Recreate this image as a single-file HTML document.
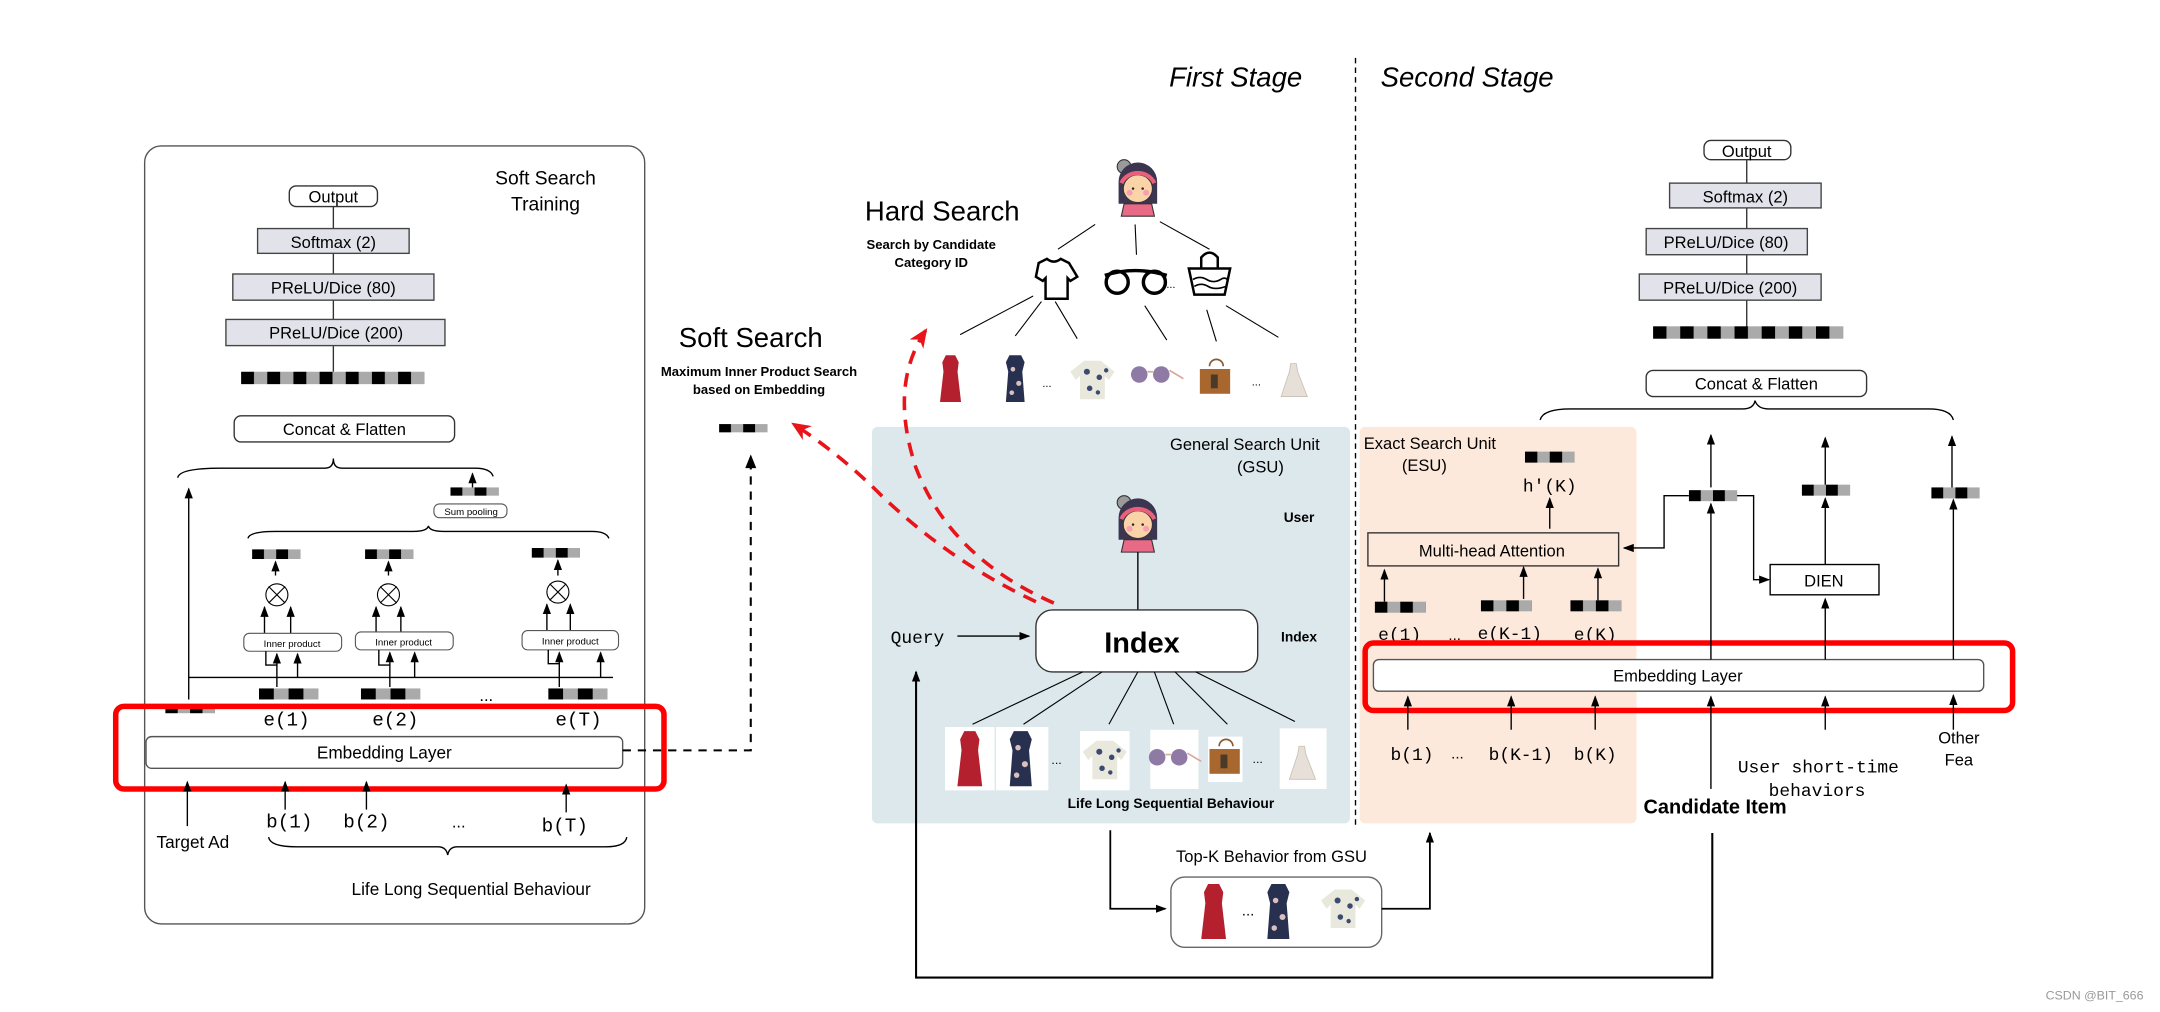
<!DOCTYPE html>
<html><head><meta charset="utf-8"><style>
html,body{margin:0;padding:0;background:#fff;}
svg{display:block;}
text{font-family:"Liberation Sans",sans-serif;fill:#000;}
.m{font-family:"Liberation Mono",monospace;}
.b{font-weight:bold;}
</style></head><body>
<svg width="2160" height="1012" viewBox="0 0 1568 735" preserveAspectRatio="none" xmlns="http://www.w3.org/2000/svg">
<defs>
<pattern id="q4" patternUnits="objectBoundingBox" patternContentUnits="objectBoundingBox" width="0.5" height="1"><rect x="0" y="0" width="0.25" height="1" fill="#000"/><rect x="0.25" y="0" width="0.25" height="1" fill="#aaa"/></pattern>
<pattern id="q14" patternUnits="objectBoundingBox" patternContentUnits="objectBoundingBox" width="0.142857" height="1"><rect x="0" y="0" width="0.0714" height="1" fill="#000"/><rect x="0.0714" y="0" width="0.0714" height="1" fill="#aaa"/></pattern>
<marker id="ar" markerWidth="8" markerHeight="8" refX="7" refY="4" orient="auto" markerUnits="userSpaceOnUse"><path d="M0,1 L8,4 L0,7 Z" fill="#000"/></marker>
<marker id="arr" markerWidth="14" markerHeight="12" refX="12" refY="6" orient="auto" markerUnits="userSpaceOnUse"><path d="M0,0 L14,6 L0,12 L4,6 Z" fill="#e8141a"/></marker>
<g id="av">
 <circle cx="-10" cy="-15" r="5" fill="#9a9a9a" stroke="#333" stroke-width="0.8"/>
 <path d="M-14,12 L-14,-4 A14,14 0 0 1 14,-4 L14,12 Z" fill="#3b3550"/>
 <path d="M-12,21 L-10,12 L10,12 L12,21 Z" fill="#e96a86" stroke="#333" stroke-width="0.8"/>
 <ellipse cx="0" cy="1" rx="10.5" ry="10" fill="#fbd3a8" stroke="#333" stroke-width="0.6"/>
 <path d="M-12,-3 A13,12 0 0 1 12,-3" fill="none" stroke="#e8607a" stroke-width="3"/>
 <circle cx="-6" cy="4" r="2.2" fill="#f7a0b5"/><circle cx="6" cy="4" r="2.2" fill="#f7a0b5"/>
 <circle cx="-3.5" cy="1" r="0.9" fill="#222"/><circle cx="3.5" cy="1" r="0.9" fill="#222"/>
</g>
<g id="dR"><path d="M-4,-20 L4,-20 L7,-14 L6,-6 L9,20 L-9,20 L-6,-6 L-7,-14 Z" fill="#b5202e"/></g>
<g id="dN"><path d="M-5,-20 L5,-20 L8,-14 L6,-6 L8,20 L-8,20 L-6,-6 L-8,-14 Z" fill="#27304f"/><circle cx="-2" cy="-8" r="2" fill="#d9c0c0"/><circle cx="3" cy="4" r="2.2" fill="#d9c0c0"/><circle cx="-3" cy="12" r="2" fill="#d9c0c0"/></g>
<g id="sh"><path d="M-6,-14 L6,-14 L16,-6 L12,0 L9,-3 L9,14 L-9,14 L-9,-3 L-12,0 L-16,-6 Z" fill="#e8e8dc"/><circle cx="-4" cy="-6" r="2.2" fill="#3c4a72"/><circle cx="5" cy="-2" r="2" fill="#3c4a72"/><circle cx="-2" cy="6" r="2" fill="#3c4a72"/><circle cx="10" cy="-7" r="1.6" fill="#3c4a72"/><circle cx="4" cy="9" r="1.6" fill="#3c4a72"/></g>
<g id="gl"><circle cx="-8" cy="0" r="6" fill="#8f7aa6"/><circle cx="8" cy="0" r="6" fill="#8f7aa6"/><path d="M-2,-2 L2,-2 M14,-3 L24,3" stroke="#d9a99a" stroke-width="1.2"/></g>
<g id="bg"><path d="M-4,-10 A5,5 0 0 1 6,-10" fill="none" stroke="#8a5a30" stroke-width="1.2"/><rect x="-11" y="-8" width="22" height="18" fill="#a8672f"/><rect x="-3" y="-4" width="5" height="10" fill="#4a3a2a"/></g>
<g id="bw"><path d="M-3,-14 L1,-14 L2,-8 L9,10 L-10,10 L-4,-8 Z" fill="#e6e0d8" stroke="#c9bfb4" stroke-width="0.6"/></g>
</defs>

<!-- ===== Left panel ===== -->
<rect x="105" y="106" width="363" height="565" rx="12" fill="#fff" stroke="#555" stroke-width="1"/>
<text x="396" y="134" font-size="14" text-anchor="middle">Soft Search</text>
<text x="396" y="153" font-size="14" text-anchor="middle">Training</text>
<line x1="242" y1="150" x2="242" y2="270" stroke="#333" stroke-width="1"/>
<rect x="210" y="135" width="64" height="15" rx="5" fill="#fff" stroke="#333"/>
<text x="242" y="147" font-size="12" text-anchor="middle">Output</text>
<rect x="187" y="166" width="110" height="18" fill="#e2e2ea" stroke="#444"/>
<text x="242" y="180" font-size="12" text-anchor="middle">Softmax (2)</text>
<rect x="169" y="199" width="146" height="19" fill="#e2e2ea" stroke="#444"/>
<text x="242" y="213" font-size="12" text-anchor="middle">PReLU/Dice (80)</text>
<rect x="164" y="232" width="159" height="19" fill="#e2e2ea" stroke="#444"/>
<text x="244" y="246" font-size="12" text-anchor="middle">PReLU/Dice (200)</text>
<rect x="175" y="270" width="133" height="9" fill="url(#q14)"/>
<rect x="170" y="302" width="160" height="19" rx="5" fill="#fff" stroke="#333"/>
<text x="250" y="316" font-size="12" text-anchor="middle">Concat &amp; Flatten</text>
<path d="M129,347 Q130,340 160,340 L236,340 Q242,340 242,333 Q242,340 248,340 L345,340 Q356,340 358,346" fill="none" stroke="#000" stroke-width="1"/>
<line x1="137" y1="508" x2="137" y2="355" stroke="#000" marker-end="url(#ar)"/>
<rect x="120" y="513" width="36" height="5" fill="url(#q4)"/>
<rect x="327" y="354" width="35" height="6" fill="url(#q4)"/>
<line x1="343" y1="354" x2="343" y2="344" stroke="#000" marker-end="url(#ar)"/>
<rect x="315" y="366" width="53" height="10" rx="4" fill="#fff" stroke="#555" stroke-width="0.8"/>
<text x="342" y="374" font-size="7" text-anchor="middle">Sum pooling</text>
<path d="M180,391 Q181,386 200,386 L300,386 Q310,386 311,382 Q312,386 322,386 L430,386 Q440,386 442,391" fill="none" stroke="#000" stroke-width="1"/>
<!-- unit 1 -->
<rect x="183" y="399" width="35" height="7" fill="url(#q4)"/>
<line x1="200" y1="418" x2="200" y2="408" stroke="#000" marker-end="url(#ar)"/>
<circle cx="201" cy="432" r="8" fill="#fff" stroke="#000" stroke-width="0.8"/><path d="M195,426 L207,438 M207,426 L195,438" stroke="#000" stroke-width="0.8"/>
<line x1="192" y1="460" x2="192" y2="441" stroke="#000" marker-end="url(#ar)"/><line x1="211" y1="460" x2="211" y2="441" stroke="#000" marker-end="url(#ar)"/>
<rect x="177" y="460" width="71" height="13" rx="4" fill="#fff" stroke="#555" stroke-width="0.8"/>
<text x="212" y="470" font-size="7" text-anchor="middle">Inner product</text>
<!-- unit 2 -->
<rect x="265" y="399" width="35" height="7" fill="url(#q4)"/>
<line x1="282" y1="418" x2="282" y2="408" stroke="#000" marker-end="url(#ar)"/>
<circle cx="282" cy="432" r="8" fill="#fff" stroke="#000" stroke-width="0.8"/><path d="M276,426 L288,438 M288,426 L276,438" stroke="#000" stroke-width="0.8"/>
<line x1="273" y1="460" x2="273" y2="441" stroke="#000" marker-end="url(#ar)"/><line x1="291" y1="460" x2="291" y2="441" stroke="#000" marker-end="url(#ar)"/>
<rect x="258" y="459" width="71" height="13" rx="4" fill="#fff" stroke="#555" stroke-width="0.8"/>
<text x="293" y="469" font-size="7" text-anchor="middle">Inner product</text>
<!-- unit T -->
<rect x="386" y="398" width="35" height="7" fill="url(#q4)"/>
<line x1="405" y1="418" x2="405" y2="407" stroke="#000" marker-end="url(#ar)"/>
<circle cx="405" cy="430" r="8" fill="#fff" stroke="#000" stroke-width="0.8"/><path d="M399,424 L411,436 M411,424 L399,436" stroke="#000" stroke-width="0.8"/>
<line x1="397" y1="459" x2="397" y2="439" stroke="#000" marker-end="url(#ar)"/><line x1="414" y1="459" x2="414" y2="439" stroke="#000" marker-end="url(#ar)"/>
<rect x="379" y="458" width="70" height="14" rx="4" fill="#fff" stroke="#555" stroke-width="0.8"/>
<text x="414" y="468" font-size="7" text-anchor="middle">Inner product</text>
<!-- inputs to inner product -->
<line x1="137" y1="492" x2="445" y2="492" stroke="#000"/>
<path d="M201,499 L201,483 L193,483 L193,473" fill="none" stroke="#000"/>
<line x1="201" y1="483" x2="201" y2="475" stroke="#000" marker-end="url(#ar)"/>
<line x1="216" y1="492" x2="216" y2="475" stroke="#000" marker-end="url(#ar)"/>
<path d="M283,499 L283,483 L275,483 L275,472" fill="none" stroke="#000"/>
<line x1="283" y1="483" x2="283" y2="474" stroke="#000" marker-end="url(#ar)"/>
<line x1="301" y1="492" x2="301" y2="474" stroke="#000" marker-end="url(#ar)"/>
<path d="M406,499 L406,482 L398,482 L398,472" fill="none" stroke="#000"/>
<line x1="406" y1="482" x2="406" y2="474" stroke="#000" marker-end="url(#ar)"/>
<line x1="436" y1="492" x2="436" y2="474" stroke="#000" marker-end="url(#ar)"/>
<rect x="188" y="500" width="43" height="8" fill="url(#q4)"/>
<rect x="262" y="500" width="43" height="8" fill="url(#q4)"/>
<rect x="398" y="500" width="43" height="8" fill="url(#q4)"/>
<text x="353" y="509" font-size="12" text-anchor="middle">...</text>
<text x="208" y="527" font-size="14" class="m" text-anchor="middle">e(1)</text>
<text x="287" y="527" font-size="14" class="m" text-anchor="middle">e(2)</text>
<text x="420" y="527" font-size="14" class="m" text-anchor="middle">e(T)</text>
<rect x="106" y="535" width="346" height="23" rx="4" fill="#fff" stroke="#555"/>
<text x="279" y="551" font-size="12.5" text-anchor="middle">Embedding Layer</text>
<rect x="84" y="513" width="398" height="60" rx="6" fill="none" stroke="#f00" stroke-width="4"/>
<line x1="136" y1="600" x2="136" y2="568" stroke="#000" marker-end="url(#ar)"/>
<line x1="207" y1="588" x2="207" y2="568" stroke="#000" marker-end="url(#ar)"/>
<line x1="266" y1="588" x2="266" y2="568" stroke="#000" marker-end="url(#ar)"/>
<line x1="411" y1="590" x2="411" y2="570" stroke="#000" marker-end="url(#ar)"/>
<text x="210" y="601" font-size="14" class="m" text-anchor="middle">b(1)</text>
<text x="266" y="601" font-size="14" class="m" text-anchor="middle">b(2)</text>
<text x="333" y="601" font-size="12" text-anchor="middle">...</text>
<text x="410" y="604" font-size="14" class="m" text-anchor="middle">b(T)</text>
<text x="140" y="616" font-size="12.5" text-anchor="middle">Target Ad</text>
<path d="M195,608 Q196,615 215,615 L318,615 Q324,615 325,621 Q326,615 332,615 L440,615 Q454,615 455,608" fill="none" stroke="#000"/>
<text x="342" y="650" font-size="12.5" text-anchor="middle">Life Long Sequential Behaviour</text>
<!-- dashed to soft search -->
<path d="M452,545 L545,545 L545,338" fill="none" stroke="#000" stroke-width="1.5" stroke-dasharray="6,5"/>
<path d="M541,340 L545,330 L549,340 Z" fill="#000"/>
<rect x="522" y="308" width="35" height="6" fill="url(#q4)"/>
<text x="545" y="252" font-size="20" text-anchor="middle">Soft Search</text>
<text x="551" y="273" font-size="9.5" class="b" text-anchor="middle">Maximum Inner Product Search</text>
<text x="551" y="286" font-size="9.5" class="b" text-anchor="middle">based on Embedding</text>
<text x="684" y="160" font-size="20" text-anchor="middle">Hard Search</text>
<text x="676" y="181" font-size="9.5" class="b" text-anchor="middle">Search by Candidate</text>
<text x="676" y="194" font-size="9.5" class="b" text-anchor="middle">Category ID</text>

<!-- stages -->
<text x="897" y="63" font-size="20" font-style="italic" text-anchor="middle">First Stage</text>
<text x="1065" y="63" font-size="20" font-style="italic" text-anchor="middle">Second Stage</text>
<line x1="984" y1="42" x2="984" y2="600" stroke="#000" stroke-width="1" stroke-dasharray="4,3"/>

<!-- GSU -->
<rect x="633" y="310" width="347" height="288" rx="4" fill="#dde8ec"/>
<text x="958" y="327" font-size="12" text-anchor="end">General Search Unit</text>
<text x="915" y="343" font-size="12" text-anchor="middle">(GSU)</text>
<text x="943" y="379" font-size="10" class="b" text-anchor="middle">User</text>
<text x="943" y="466" font-size="10" class="b" text-anchor="middle">Index</text>
<use href="#av" x="826" y="380"/>
<line x1="826" y1="401" x2="826" y2="443" stroke="#000"/>
<rect x="752" y="443" width="161" height="45" rx="12" fill="#fff" stroke="#333"/>
<text x="829" y="474" font-size="21" class="b" text-anchor="middle">Index</text>
<text x="666" y="467" font-size="13" class="m" text-anchor="middle">Query</text>
<line x1="695" y1="462" x2="747" y2="462" stroke="#000" marker-end="url(#ar)"/>
<g stroke="#000" stroke-width="0.8">
<line x1="786" y1="488" x2="706" y2="526"/><line x1="800" y1="488" x2="743" y2="526"/>
<line x1="826" y1="488" x2="805" y2="526"/><line x1="838" y1="488" x2="852" y2="526"/>
<line x1="853" y1="488" x2="891" y2="526"/><line x1="868" y1="488" x2="940" y2="524"/>
</g>
<rect x="686" y="528" width="36" height="46" fill="#fff"/><use href="#dR" x="704" y="551"/>
<rect x="723" y="528" width="38" height="46" fill="#fff"/><use href="#dN" x="741" y="551"/>
<text x="767" y="555" font-size="9" text-anchor="middle">...</text>
<rect x="784" y="531" width="36" height="43" fill="#fff"/><use href="#sh" x="802" y="552"/>
<rect x="835" y="530" width="35" height="43" fill="#fff"/><use href="#gl" x="848" y="550"/>
<rect x="877" y="535" width="25" height="33" fill="#fff"/><use href="#bg" x="889" y="552"/>
<text x="913" y="554" font-size="9" text-anchor="middle">...</text>
<rect x="929" y="529" width="34" height="44" fill="#fff"/><use href="#bw" x="946" y="556"/>
<text x="850" y="587" font-size="10" class="b" text-anchor="middle">Life Long Sequential Behaviour</text>

<!-- Hard search tree -->
<use href="#av" x="826" y="136"/>
<g stroke="#000" stroke-width="0.8">
<line x1="795" y1="163" x2="768" y2="181"/><line x1="824" y1="163" x2="825" y2="185"/><line x1="842" y1="161" x2="878" y2="181"/>
<line x1="750" y1="215" x2="697" y2="243"/><line x1="756" y1="219" x2="737" y2="244"/><line x1="766" y1="219" x2="782" y2="246"/>
<line x1="831" y1="222" x2="847" y2="247"/><line x1="876" y1="225" x2="883" y2="248"/><line x1="890" y1="222" x2="928" y2="245"/>
</g>
<path d="M754,191 L760,188 Q765,192 770,188 L776,191 L782,201 L777,204 L775,202 L775,217 L759,217 L759,202 L757,204 L752,201 Z" fill="#fff" stroke="#000" stroke-width="1.8"/>
<g fill="none" stroke="#000" stroke-width="2.5"><circle cx="811" cy="205" r="8"/><circle cx="838" cy="205" r="8"/><path d="M802,200 Q824,193 847,200"/></g>
<text x="850" y="209" font-size="8" text-anchor="middle">...</text>
<path d="M863,195 L893,195 L889,214 L867,214 Z" fill="#fff" stroke="#000" stroke-width="1.8"/>
<path d="M872,195 L872,187 Q878,180 884,187 L884,195" fill="none" stroke="#000" stroke-width="1.8"/>
<path d="M866,203 Q871,200 876,203 Q881,206 886,203 Q889,201 891,203 M867,208 Q872,205 877,208 Q882,211 890,208" fill="none" stroke="#000" stroke-width="1.2"/>
<use href="#dR" x="690" y="275" transform="translate(690,275) scale(0.85) translate(-690,-275)"/>
<use href="#dN" x="737" y="275" transform="translate(737,275) scale(0.85) translate(-737,-275)"/>
<text x="760" y="281" font-size="8" text-anchor="middle">...</text>
<use href="#sh" x="793" y="276"/>
<use href="#gl" x="835" y="272"/>
<use href="#bg" x="882" y="276"/>
<text x="912" y="280" font-size="8" text-anchor="middle">...</text>
<use href="#bw" x="940" y="278"/>

<!-- red dashed arrows -->
<path d="M765,438 Q690,405 665,340 Q645,280 672,240" fill="none" stroke="#e8141a" stroke-width="2.6" stroke-dasharray="10,7" marker-end="url(#arr)"/>
<path d="M752,437 Q690,408 640,360 Q610,330 576,308" fill="none" stroke="#e8141a" stroke-width="2.6" stroke-dasharray="10,7" marker-end="url(#arr)"/>

<!-- Top-K -->
<path d="M806,603 L806,660 L846,660" fill="none" stroke="#000" stroke-width="1.3" marker-end="url(#ar)"/>
<text x="923" y="626" font-size="12" text-anchor="middle">Top-K Behavior from GSU</text>
<rect x="850" y="637" width="153" height="51" rx="10" fill="#fff" stroke="#666"/>
<use href="#dR" x="881" y="662"/>
<text x="906" y="665" font-size="11" text-anchor="middle">...</text>
<use href="#dN" x="928" y="662"/>
<use href="#sh" x="975" y="660"/>
<path d="M1003,660 L1038,660 L1038,605" fill="none" stroke="#000" stroke-width="1.3" marker-end="url(#ar)"/>
<path d="M1243,605 L1243,710 L665,710 L665,488" fill="none" stroke="#000" stroke-width="1.5" marker-end="url(#ar)"/>

<!-- ESU -->
<rect x="987" y="310" width="201" height="288" rx="4" fill="#fde9dc"/>
<text x="990" y="326" font-size="12">Exact Search Unit</text>
<text x="1034" y="342" font-size="12" text-anchor="middle">(ESU)</text>
<rect x="1107" y="328" width="36" height="8" fill="url(#q4)"/>
<text x="1125" y="357" font-size="13" class="m" text-anchor="middle">h′(K)</text>
<line x1="1125" y1="384" x2="1125" y2="362" stroke="#000" marker-end="url(#ar)"/>
<rect x="993" y="387" width="182" height="24" fill="#fde9dc" stroke="#333"/>
<text x="1083" y="404" font-size="12" text-anchor="middle">Multi-head Attention</text>
<line x1="1005" y1="437" x2="1005" y2="414" stroke="#000" marker-end="url(#ar)"/>
<line x1="1106" y1="435" x2="1106" y2="412" stroke="#000" marker-end="url(#ar)"/>
<line x1="1160" y1="436" x2="1160" y2="413" stroke="#000" marker-end="url(#ar)"/>
<rect x="998" y="437" width="37" height="8" fill="url(#q4)"/>
<rect x="1075" y="436" width="37" height="8" fill="url(#q4)"/>
<rect x="1140" y="436" width="37" height="8" fill="url(#q4)"/>
<text x="1016" y="465" font-size="13" class="m" text-anchor="middle">e(1)</text>
<text x="1056" y="465" font-size="11" text-anchor="middle">...</text>
<text x="1096" y="464" font-size="13" class="m" text-anchor="middle">e(K-1)</text>
<text x="1158" y="465" font-size="13" class="m" text-anchor="middle">e(K)</text>
<rect x="997" y="479" width="443" height="23" rx="4" fill="#fff" stroke="#555"/>
<text x="1218" y="495" font-size="12" text-anchor="middle">Embedding Layer</text>
<rect x="991" y="467" width="470" height="49" rx="6" fill="none" stroke="#f00" stroke-width="4"/>
<line x1="1022" y1="530" x2="1022" y2="506" stroke="#000" marker-end="url(#ar)"/>
<line x1="1097" y1="530" x2="1097" y2="506" stroke="#000" marker-end="url(#ar)"/>
<line x1="1158" y1="530" x2="1158" y2="506" stroke="#000" marker-end="url(#ar)"/>
<text x="1025" y="552" font-size="13" class="m" text-anchor="middle">b(1)</text>
<text x="1058" y="551" font-size="11" text-anchor="middle">...</text>
<text x="1104" y="552" font-size="13" class="m" text-anchor="middle">b(K-1)</text>
<text x="1158" y="552" font-size="13" class="m" text-anchor="middle">b(K)</text>
<text x="1245" y="591" font-size="14.5" class="b" text-anchor="middle">Candidate Item</text>
<line x1="1242" y1="573" x2="1242" y2="506" stroke="#000" marker-end="url(#ar)"/>
<line x1="1325" y1="530" x2="1325" y2="506" stroke="#000" marker-end="url(#ar)"/>
<line x1="1418" y1="530" x2="1418" y2="505" stroke="#000" marker-end="url(#ar)"/>
<text x="1320" y="561" font-size="13" class="m" text-anchor="middle">User short-time</text>
<text x="1319" y="578" font-size="13" class="m" text-anchor="middle">behaviors</text>
<text x="1422" y="540" font-size="12" text-anchor="middle">Other</text>
<text x="1422" y="556" font-size="12" text-anchor="middle">Fea</text>
<!-- candidate path -->
<line x1="1242" y1="479" x2="1242" y2="366" stroke="#000" marker-end="url(#ar)"/>
<rect x="1226" y="356" width="35" height="8" fill="url(#q4)"/>
<line x1="1242" y1="354" x2="1242" y2="316" stroke="#000" marker-end="url(#ar)"/>
<path d="M1226,360 L1208,360 L1208,398 L1179,398" fill="none" stroke="#000" marker-end="url(#ar)"/>
<path d="M1261,360 L1273,360 L1273,421 L1284,421" fill="none" stroke="#000" marker-end="url(#ar)"/>
<rect x="1285" y="410" width="79" height="22" fill="#fff" stroke="#000"/>
<text x="1324" y="426" font-size="12" text-anchor="middle">DIEN</text>
<line x1="1325" y1="479" x2="1325" y2="435" stroke="#000" marker-end="url(#ar)"/>
<line x1="1325" y1="410" x2="1325" y2="362" stroke="#000" marker-end="url(#ar)"/>
<rect x="1308" y="352" width="35" height="8" fill="url(#q4)"/>
<line x1="1325" y1="352" x2="1325" y2="318" stroke="#000" marker-end="url(#ar)"/>
<line x1="1418" y1="479" x2="1418" y2="363" stroke="#000" marker-end="url(#ar)"/>
<rect x="1402" y="354" width="35" height="8" fill="url(#q4)"/>
<line x1="1417" y1="354" x2="1417" y2="317" stroke="#000" marker-end="url(#ar)"/>
<path d="M1118,305 Q1120,297 1140,297 L1265,297 Q1273,297 1274,291 Q1276,297 1284,297 L1400,297 Q1416,297 1418,305" fill="none" stroke="#000"/>
<!-- right tower -->
<line x1="1268" y1="116" x2="1268" y2="240" stroke="#333"/>
<rect x="1237" y="102" width="63" height="14" rx="5" fill="#fff" stroke="#333"/>
<text x="1268" y="114" font-size="12" text-anchor="middle">Output</text>
<rect x="1212" y="133" width="110" height="18" fill="#e2e2ea" stroke="#444"/>
<text x="1267" y="147" font-size="12" text-anchor="middle">Softmax (2)</text>
<rect x="1195" y="166" width="117" height="19" fill="#e2e2ea" stroke="#444"/>
<text x="1253" y="180" font-size="12" text-anchor="middle">PReLU/Dice (80)</text>
<rect x="1190" y="199" width="132" height="19" fill="#e2e2ea" stroke="#444"/>
<text x="1256" y="213" font-size="12" text-anchor="middle">PReLU/Dice (200)</text>
<rect x="1200" y="237" width="138" height="9" fill="url(#q14)"/>
<rect x="1195" y="269" width="160" height="19" rx="5" fill="#fff" stroke="#333"/>
<text x="1275" y="283" font-size="12" text-anchor="middle">Concat &amp; Flatten</text>

<text x="1556" y="726" font-size="9" fill="#999" style="fill:#999" text-anchor="end">CSDN @BIT_666</text>
</svg>
</body></html>
